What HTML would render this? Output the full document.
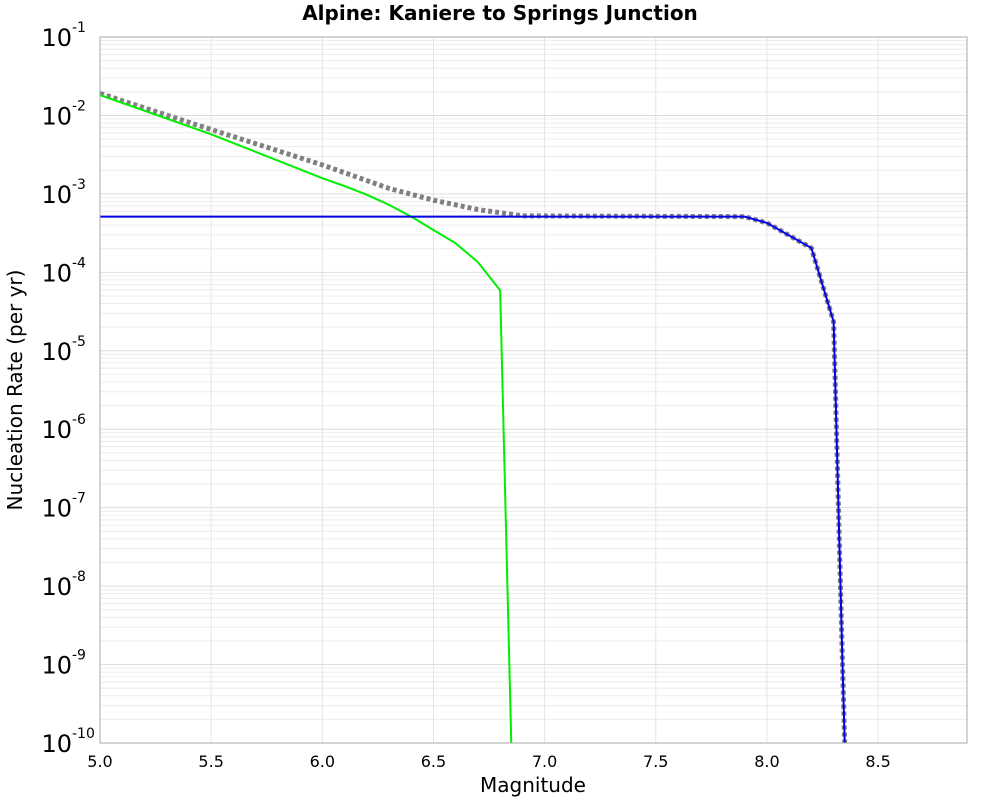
<!DOCTYPE html>
<html><head><meta charset="utf-8"><style>
body{margin:0;background:#fff;font-family:"Liberation Sans","DejaVu Sans",sans-serif}
</style></head><body>
<svg id="chart" width="1000" height="800" xmlns="http://www.w3.org/2000/svg">
<text x="500" y="20" text-anchor="middle" font-family="DejaVu Sans,sans-serif" font-weight="bold" font-size="20">Alpine: Kaniere to Springs Junction</text>
<g id="grid"></g>
<g id="series"></g>
<rect x="100" y="37" width="867" height="706" fill="none" stroke="#aaa" stroke-width="1"/>
<g id="axes"></g>
<text x="533" y="792" text-anchor="middle" font-family="DejaVu Sans,sans-serif" font-size="20">Magnitude</text>
<text transform="translate(22,390) rotate(-90)" text-anchor="middle" font-family="DejaVu Sans,sans-serif" font-size="20">Nucleation Rate (per yr)</text>
</svg>
<script>
const xTicks=[5.0,5.5,6.0,6.5,7.0,7.5,8.0,8.5];
const xTickLabels=["5.0","5.5","6.0","6.5","7.0","7.5","8.0","8.5"];
const yDecades=[-1,-2,-3,-4,-5,-6,-7,-8,-9,-10];
const greenMag=[5.0,5.5,6.0,6.1,6.2,6.3,6.4,6.5,6.6,6.7,6.8,6.85];
const greenLog=[-1.74,-2.24,-2.80,-2.90,-3.01,-3.14,-3.29,-3.46,-3.63,-3.87,-4.23,-10];
const blueMag=[5.0,7.9,8.0,8.2,8.3,8.31,8.32,8.33,8.34,8.35];
const blueLog=[-3.29,-3.29,-3.37,-3.69,-4.63,-5.7,-6.8,-7.9,-9.0,-10];
const grayMag=[5.0,5.5,6.0,6.3,6.5,6.7,6.9,7.9,8.0,8.2,8.3,8.31,8.32,8.33,8.34,8.35];
const grayLog=[-1.72,-2.18,-2.63,-2.93,-3.08,-3.2,-3.28,-3.29,-3.37,-3.69,-4.63,-5.7,-6.8,-7.9,-9.0,-10];
const NS="http://www.w3.org/2000/svg";
const L=100,R=967,T=37,B=743,xmin=5.0,xmax=8.9,lmax=-1,lmin=-10;
const X=m=>L+(m-xmin)/(xmax-xmin)*(R-L);
const Y=l=>T+(lmax-l)/(lmax-lmin)*(B-T);
function mk(tag,attrs,parent){const e=document.createElementNS(NS,tag);for(const k in attrs)e.setAttribute(k,attrs[k]);parent.appendChild(e);return e;}
const grid=document.getElementById('grid'),axes=document.getElementById('axes'),ser=document.getElementById('series');
for(let d=-10;d<-1;d++){for(let k=1;k<10;k++){const y=Y(d+Math.log10(k));
const ln=mk('line',{x1:L,x2:R,y1:y,y2:y,stroke:k==1?'#ddd':'#ececec','stroke-width':1},grid);
}}
xTicks.forEach((t,i)=>{const x=X(t);
const ln=mk('line',{x1:x,x2:x,y1:T,y2:B,stroke:'#e4e4e4','stroke-width':1},grid);

const tx=mk('text',{x:x,y:767,'text-anchor':'middle','font-size':16,'font-family':'DejaVu Sans,sans-serif'},axes);
tx.textContent=xTickLabels[i];
});
yDecades.forEach(d=>{const y=Y(d);
const tx=mk('text',{x:72,y:y+9,'text-anchor':'end','font-size':24,'font-family':'DejaVu Sans,sans-serif'},axes);
tx.textContent='10';

const sp=mk('text',{x:72,y:y-5,'font-size':14,'font-family':'DejaVu Sans,sans-serif'},axes);
sp.textContent=String(d);
});
function line(ms,ls,attrs,name){const pts=ms.map((m,i)=>X(m)+','+Y(ls[i])).join(' ');
const p=mk('polyline',Object.assign({points:pts,fill:'none'},attrs),ser);
}
line(grayMag,grayLog,{stroke:'#808080','stroke-width':5,'stroke-dasharray':'4,3'},'total-mfd-line');
line(greenMag,greenLog,{stroke:'#00ee00','stroke-width':2},'gr-mfd-line');
line(blueMag,blueLog,{stroke:'#0000ee','stroke-width':2},'char-mfd-line');
</script>
</body></html>
